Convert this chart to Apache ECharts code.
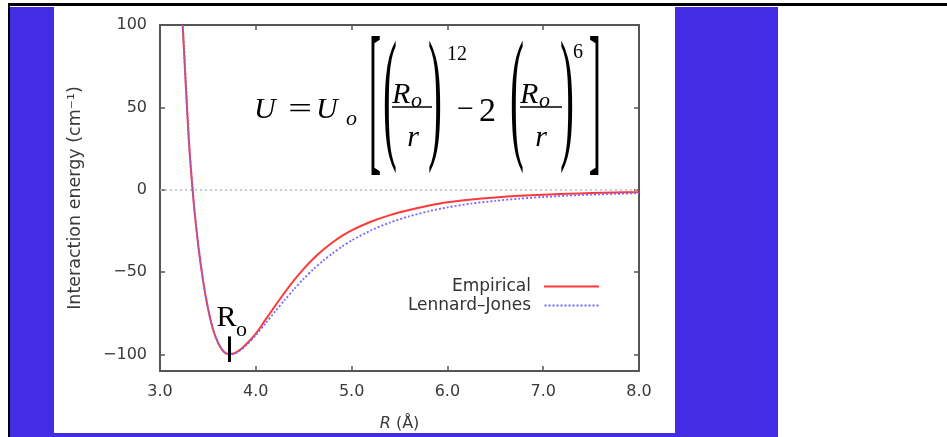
<!DOCTYPE html>
<html>
<head>
<meta charset="utf-8">
<script src="https://cdn.jsdelivr.net/npm/echarts@6/dist/echarts.min.js"></script>
<style>
html,body{margin:0;padding:0;width:947px;height:437px;overflow:hidden;background:#fff;}
#topline{position:absolute;left:8px;top:3px;width:939px;height:3px;background:#000;}
#leftline{position:absolute;left:8px;top:3px;width:2px;height:434px;background:#000;}
#blue{position:absolute;left:10px;top:7px;width:768px;height:430px;background:#432ce4;}
#panel{position:absolute;left:54px;top:7px;width:621px;height:426px;background:#fff;}
#chart{position:absolute;left:0;top:0;width:947px;height:437px;}
</style>
</head>
<body>
<div id="topline"></div>
<div id="leftline"></div>
<div id="blue"></div>
<div id="panel"></div>
<div id="chart"></div>
<script>
// ---- data ----
const rValues = [3.237,3.25,3.30,3.35,3.40,3.45,3.50,3.55,3.60,3.65,3.70,3.75,3.80,3.85,3.90,4.00,4.10,4.20,4.30,4.40,4.50,4.60,4.70,4.80,4.90,5.00,5.20,5.40,5.60,5.80,6.00,6.25,6.50,6.75,7.00,7.25,7.50,7.75,8.00];
const empirical = [100,85.3,31,-6.5,-34,-55.3,-71.8,-84,-92.1,-97.2,-99.6,-99.6,-98.5,-96.5,-93.8,-87.3,-79.0,-70.6,-62.5,-54.9,-48.0,-41.9,-36.6,-32.0,-28.0,-24.6,-19.4,-15.4,-12.3,-9.7,-7.6,-5.9,-4.65,-3.7,-3.0,-2.45,-2.0,-1.7,-1.45];
const lennardJones = [100,85.3,31,-6.5,-34,-55.3,-71.8,-84,-92.1,-97.2,-99.7,-99.9,-98.9,-97,-94.5,-88.3,-81.2,-74,-67,-60.3,-54,-48.3,-43.2,-38.6,-34.5,-30.8,-24.7,-19.9,-16.1,-13.1,-10.7,-8.4,-6.7,-5.4,-4.4,-3.6,-3.0,-2.5,-2.1];
const seriesNames = ['Empirical', 'Lennard\u2013Jones'];
const xTicks = [3, 4, 5, 6, 7, 8];
const yTicks = [-100, -50, 0, 50, 100];
const zeroLine = [0];
const roMark = [3.72, -89, -104.5];   // R_o marker: x, top, bottom (data units)

const chart = echarts.init(document.getElementById('chart'), null, {renderer: 'canvas'});

const AX = '#555';
const LBL = '#3a3a3a';
const SANS = 'DejaVu Sans';
const SERIF = '"Liberation Serif", "Times New Roman", serif';
const RED = '#ff3838';
const BLUE = '#7468ff';

function txt(x, y, s, font, align, extra) {
  return Object.assign({
    type: 'text', x: x, y: y, z: 50,
    style: {text: s, font: font, fill: '#000', textAlign: align || 'left', textVerticalAlign: 'middle'}
  }, extra || {});
}
function paren(x, s) {
  return txt(x, 104, s, '60px ' + SERIF, 'center', {scaleX: 0.7, scaleY: 2.44});
}
function bracket(x, s) {
  return txt(x, 109, s, '60px ' + SERIF, 'center', {scaleX: 0.62, scaleY: 2.8});
}

const formula = [
  txt(254, 110, 'U', 'italic 30px ' + SERIF),
  txt(300, 110, '=', '30px ' + SERIF, 'center', {scaleX: 1.4}),
  txt(316, 110, 'U', 'italic 30px ' + SERIF),
  txt(346, 119, 'o', 'italic 22px ' + SERIF),
  bracket(375, '['),
  paren(390, '('),
  txt(392, 95, 'R', 'italic 30px ' + SERIF),
  txt(411, 101, 'o', 'italic 22px ' + SERIF),
  {type: 'line', z: 50, shape: {x1: 392, y1: 107, x2: 432, y2: 107}, style: {stroke: '#000', lineWidth: 1.5}},
  txt(413, 138, 'r', 'italic 30px ' + SERIF, 'center'),
  paren(435, ')'),
  txt(447, 55, '12', '20px ' + SERIF),
  txt(457, 110, '\u2212', '30px ' + SERIF),
  txt(479, 112, '2', '34px ' + SERIF),
  paren(517, '('),
  txt(520, 95, 'R', 'italic 30px ' + SERIF),
  txt(539, 101, 'o', 'italic 22px ' + SERIF),
  {type: 'line', z: 50, shape: {x1: 520, y1: 107, x2: 562, y2: 107}, style: {stroke: '#000', lineWidth: 1.5}},
  txt(541, 138, 'r', 'italic 30px ' + SERIF, 'center'),
  paren(567, ')'),
  txt(573, 53, '6', '20px ' + SERIF),
  bracket(595, ']')
];

// legend icons: a solid bar and a dotted bar (55 x 2)
let dotted = '';
for (let i = 0; i < 55; i += 4) dotted += 'M' + i + ',0h2v2h-2z';
const legendIcons = ['path://M0,0H55V2H0Z', 'path://' + dotted];

const yFmt = v => String(v).replace('-', '\u2212');

const option = {
  backgroundColor: 'transparent',
  animation: false,
  grid: {left: 160, right: 308, top: 25, bottom: 66, containLabel: false},
  legend: {
    data: seriesNames.map((n, i) => ({name: n, icon: legendIcons[i]})),
    orient: 'vertical',
    right: 343, top: 273,
    align: 'right',
    itemWidth: 55, itemHeight: 2, itemGap: 2,
    textStyle: {fontFamily: SANS, fontSize: 17, color: '#333', padding: [0, 8, 0, 0]}
  },
  xAxis: [{
    type: 'value', min: 3, max: 8, interval: 1, position: 'bottom',
    axisLine: {show: true, onZero: false, lineStyle: {color: AX, width: 2}},
    axisTick: {show: true, inside: true, length: 5, lineStyle: {color: AX, width: 1.5}, customValues: xTicks},
    axisLabel: {formatter: v => v.toFixed(1), color: LBL, fontFamily: SANS, fontSize: 16, margin: 13, customValues: xTicks},
    splitLine: {show: false},
    name: '{i|R} (\u00c5)', nameLocation: 'middle', nameGap: 45,
    nameTextStyle: {color: LBL, fontFamily: SANS, fontSize: 16, rich: {i: {fontStyle: 'italic', fontFamily: SANS, fontSize: 16, color: LBL}}}
  }, {
    type: 'value', min: 3, max: 8, interval: 1, position: 'top',
    axisLine: {show: true, onZero: false, lineStyle: {color: AX, width: 2}},
    axisTick: {show: true, inside: true, length: 5, lineStyle: {color: AX, width: 1.5}},
    axisLabel: {show: false}, splitLine: {show: false}
  }],
  yAxis: [{
    type: 'value', min: -110, max: 100, position: 'left',
    axisLine: {show: true, onZero: false, lineStyle: {color: AX, width: 2}},
    axisTick: {show: true, inside: true, length: 5, lineStyle: {color: AX, width: 1.5}, customValues: yTicks},
    axisLabel: {formatter: yFmt, color: LBL, fontFamily: SANS, fontSize: 16, margin: 13, customValues: yTicks},
    splitLine: {show: false},
    name: 'Interaction energy (cm\u207b\u00b9)', nameLocation: 'middle', nameGap: 76, nameRotate: 90,
    nameTextStyle: {color: LBL, fontFamily: SANS, fontSize: 17.5}
  }, {
    type: 'value', min: -110, max: 100, position: 'right',
    axisLine: {show: true, onZero: false, lineStyle: {color: AX, width: 2}},
    axisTick: {show: true, inside: true, length: 5, lineStyle: {color: AX, width: 1.5}, customValues: yTicks},
    axisLabel: {show: false}, splitLine: {show: false}
  }],
  series: [{
    name: seriesNames[0], type: 'line', xAxisIndex: 0, yAxisIndex: 0,
    data: rValues.map((r, i) => [r, empirical[i]]),
    symbol: 'none', smooth: 0.25, clip: true, z: 3,
    lineStyle: {color: RED, width: 2}, itemStyle: {color: RED},
    markLine: {
      silent: true, symbol: ['none', 'none'], animation: false,
      label: {show: false},
      lineStyle: {color: '#000', width: 3, type: 'solid'},
      data: [[{coord: [roMark[0], roMark[1]]}, {coord: [roMark[0], roMark[2]]}]],
      z: 10
    }
  }, {
    name: seriesNames[1], type: 'line', xAxisIndex: 0, yAxisIndex: 0,
    data: rValues.map((r, i) => [r, lennardJones[i]]),
    symbol: 'none', smooth: 0.25, clip: true, z: 4,
    lineStyle: {color: BLUE, width: 1.8, type: [2, 2]}, itemStyle: {color: BLUE},
    markLine: {
      silent: true, symbol: ['none', 'none'], animation: false,
      label: {show: false},
      lineStyle: {color: '#bbbbbb', width: 1.5, type: [2, 3]},
      data: zeroLine.map(v => ({yAxis: v})),
      z: 1
    }
  }],
  graphic: {elements: formula}
};

chart.setOption(option);

// R_o label anchored to the marker's data position
const p = chart.convertToPixel({gridIndex: 0}, [roMark[0], roMark[1]]);
chart.setOption({
  graphic: {elements: formula.concat([
    txt(p[0] - 2.5, p[1] - 18, 'R', '30px ' + SERIF, 'center'),
    txt(p[0] + 7, p[1] - 6, 'o', '22px ' + SERIF, 'left')
  ])}
});
</script>
</body>
</html>
